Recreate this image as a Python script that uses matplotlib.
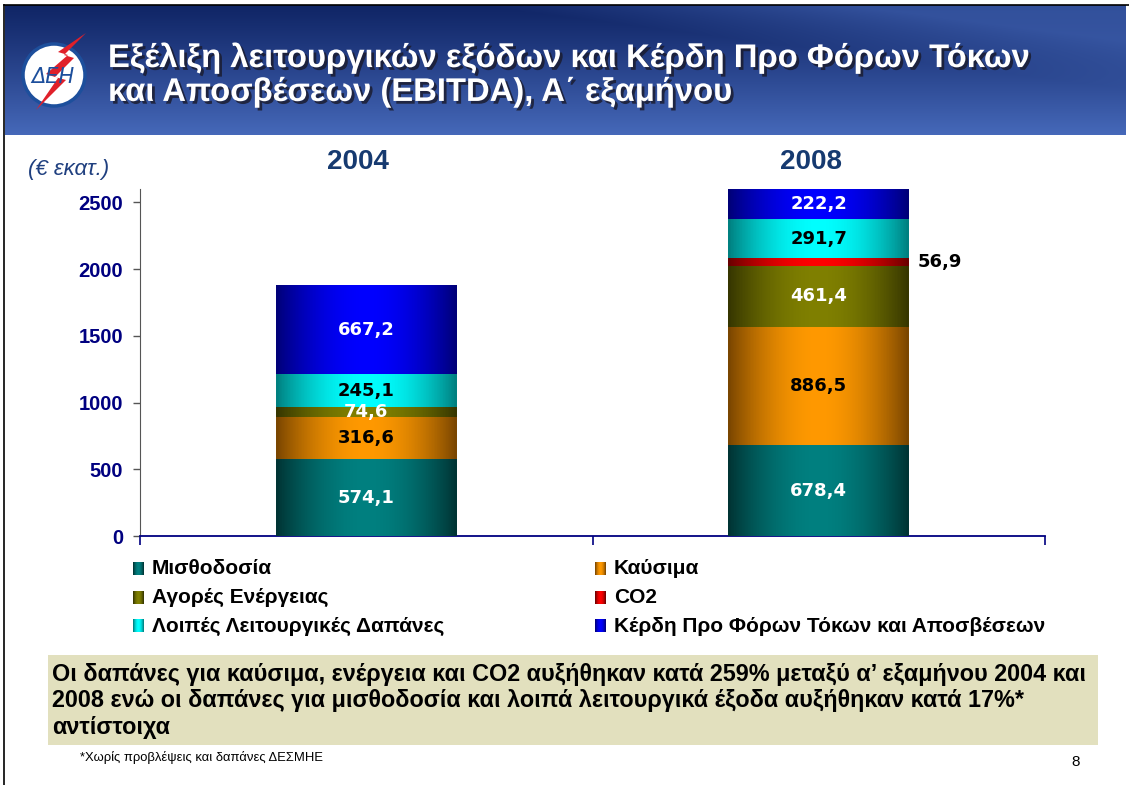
import numpy as np
import matplotlib
matplotlib.use("Agg")
import matplotlib.pyplot as plt
from matplotlib import font_manager as fm
from matplotlib import patheffects as pe
from matplotlib.colors import to_rgb
from matplotlib.patches import Rectangle, Ellipse, Polygon

# ---------------------------------------------------------------- data
years = ["2004", "2008"]
categories = ["Μισθοδοσία", "Καύσιμα", "Αγορές Ενέργειας", "CO2",
              "Λοιπές Λειτουργικές Δαπάνες",
              "Κέρδη Προ Φόρων Τόκων και Αποσβέσεων"]
misthodosia = [574.1, 678.4]
kafsima = [316.6, 886.5]
agores = [74.6, 461.4]
co2 = [0.0, 56.9]
loipes = [245.1, 291.7]
ebitda = [667.2, 222.2]
series = [misthodosia, kafsima, agores, co2, loipes, ebitda]
yticks = [0, 500, 1000, 1500, 2000, 2500]

title = ("Εξέλιξη λειτουργικών εξόδων και Κέρδη Προ Φόρων Τόκων\n"
         "και Αποσβέσεων (EBITDA), Α΄ εξαμήνου")
note = ("Οι δαπάνες για καύσιμα, ενέργεια και CO2 αυξήθηκαν κατά 259% μεταξύ α’ εξαμήνου 2004 και\n"
        "2008 ενώ οι δαπάνες για μισθοδοσία και λοιπά λειτουργικά έξοδα αυξήθηκαν κατά 17%*\n"
        "αντίστοιχα")
footnote = "*Χωρίς προβλέψεις και δαπάνες ΔΕΣΜΗΕ"

# ---------------------------------------------------------------- style
CENTER = ["#008080", "#FF9900", "#808000", "#FF0000", "#00FFFF", "#0000FF"]
EDGE = ["#003434", "#7a4600", "#363600", "#6a0000", "#008080", "#000078"]
LBL = ["white", "black", "white", "black", "black", "white"]
NAVY = "#000080"

names = {f.name for f in fm.fontManager.ttflist}
NARROW = "Liberation Sans Narrow" if "Liberation Sans Narrow" in names else "Liberation Sans"
ARIAL = "Liberation Sans"

W, H = 1129, 785
fig = plt.figure(figsize=(W / 100, H / 100), dpi=100)
fig.patch.set_facecolor("white")

bg = fig.add_axes([0, 0, 1, 1], zorder=0)
bg.set_xlim(0, W); bg.set_ylim(H, 0); bg.axis("off")


def grad_img(center, edge, n=64):
    x = np.linspace(0, 1, n)
    p = np.sin(np.pi * x) ** 0.9
    c = np.array(to_rgb(center)); e = np.array(to_rgb(edge))
    return (e[None, :] + (c - e)[None, :] * p[:, None])[None, :, :]


# ---------------------------------------------------------------- header
hy = np.linspace(0, 1, 130)[:, None]
hx = np.linspace(0, 1, 400)[None, :]
t = 0.08 + 0.85 * hy ** 1.1
band = np.clip((hx - 0.42 - 0.9 * hy) * 3.0, 0, 1) * (1 - hy)
t = np.clip(t + 0.55 * band, 0, 1)
dark = np.array(to_rgb("#0b1f5e")); light = np.array(to_rgb("#4a6ec0"))
hdr = dark + (light - dark) * t[..., None]
bg.imshow(hdr, extent=(5, 1126, 135, 5), aspect="auto", zorder=1)
bg.plot([4, 4], [5, H], color="black", lw=1.2, zorder=2)
bg.plot([4, W], [5, 5], color="black", lw=1.2, zorder=2)

# logo
bg.add_patch(Ellipse((54, 75), 62, 62, fc="white", ec="#1d4f9c", lw=2.5, zorder=3))
bg.add_patch(Polygon([(86, 33), (58, 52), (68, 55), (46, 74), (58, 78),
                      (36, 110), (66, 80), (55, 77), (74, 58), (64, 55)],
                     closed=True, fc="#e0202a", ec="none", zorder=4))
bg.text(53, 77, "ΔΕΗ", ha="center", va="center", fontsize=15, style="italic",
        color="#1d4f9c", family="DejaVu Sans", zorder=5)

bg.text(108, 75, title, ha="left", va="center", fontsize=23.6, weight="bold",
        color="white", family=NARROW, linespacing=1.12, zorder=5,
        path_effects=[pe.withSimplePatchShadow(offset=(2, -2),
                                               shadow_rgbFace="#1a1a2a", alpha=0.8)])

# ---------------------------------------------------------------- chart
ax = fig.add_axes([140 / W, (H - 536) / H, 905 / W, 347 / H], zorder=2)
ax.patch.set_alpha(0)
xpos = np.arange(len(years))
bottom = np.zeros(len(years))
for i, (vals, cat) in enumerate(zip(series, categories)):
    bars = ax.bar(xpos, vals, 0.40, bottom=bottom, color=CENTER[i],
                  linewidth=0, zorder=2)
    for j, b in enumerate(bars):
        if vals[j] <= 0:
            continue
        im = ax.imshow(grad_img(CENTER[i], EDGE[i]), aspect="auto", zorder=3,
                       extent=(b.get_x(), b.get_x() + b.get_width(),
                               b.get_y(), b.get_y() + b.get_height()))
        im.set_clip_path(b)
        txt = f"{vals[j]:.1f}".replace(".", ",")
        yc = bottom[j] + vals[j] / 2
        if cat == "CO2":
            ax.text(b.get_x() + b.get_width() + 0.018, yc, txt, ha="left",
                    va="center", fontsize=13, weight="bold", color="black",
                    family="DejaVu Sans", zorder=5, clip_on=False)
        else:
            ax.text(xpos[j], yc, txt, ha="center", va="center", fontsize=13,
                    weight="bold", color=LBL[i], family="DejaVu Sans", zorder=5)
    bottom += np.array(vals)

ax.set_xlim(-0.5, 1.5)
ax.set_ylim(0, 2600)
ax.set_yticks(yticks)
ax.set_xticks([-0.5, 0.5, 1.5])
ax.set_xticklabels([])
for lbl in ax.get_yticklabels():
    lbl.set_fontfamily(ARIAL); lbl.set_fontweight("bold")
    lbl.set_fontsize(14.5); lbl.set_color(NAVY)
ax.tick_params(axis="y", direction="out", length=5, width=1, color="#555555", pad=7)
ax.tick_params(axis="x", direction="out", length=6.5, width=1.2, color=NAVY)
for sp in ("top", "right"):
    ax.spines[sp].set_visible(False)
ax.spines["left"].set_color("#555555")
ax.spines["bottom"].set_color(NAVY); ax.spines["bottom"].set_linewidth(1.3)

for j, yr in enumerate(years):
    ax.text(xpos[j] - 0.018, 2800, yr, ha="center", va="center", fontsize=20,
            weight="bold", color="#163a70", family=ARIAL, clip_on=False)
bg.text(28, 170, "(€ εκατ.)", ha="left", va="center", fontsize=16,
        style="italic", color="#1f3f7f", family=ARIAL, zorder=5)

# ---------------------------------------------------------------- legend
for i, cat in enumerate(categories):
    r, c = divmod(i, 2)
    y = 569 + r * 28.5
    x0 = 133 if c == 0 else 595
    im = bg.imshow(grad_img(CENTER[i], EDGE[i], 16), aspect="auto", zorder=4,
                   extent=(x0, x0 + 11, y + 6.5, y - 6.5))
    bg.text(x0 + 19, y, cat, ha="left", va="center", fontsize=15,
            weight="bold", color="black", family=NARROW, zorder=5)

# ---------------------------------------------------------------- note box
bg.add_patch(Rectangle((48, 655), 1050, 90, fc="#e2e0be", ec="none", zorder=3))
bg.text(52, 701, note, ha="left", va="center", fontsize=16.85, weight="bold",
        color="black", family=NARROW, linespacing=1.17, zorder=5)
bg.text(80, 757, footnote, ha="left", va="center", fontsize=9.4,
        color="black", family=NARROW, zorder=5)
bg.text(1080, 762, "8", ha="right", va="center", fontsize=11,
        color="black", family=ARIAL, zorder=5)

fig.savefig("out.png", dpi=100, facecolor="white")
